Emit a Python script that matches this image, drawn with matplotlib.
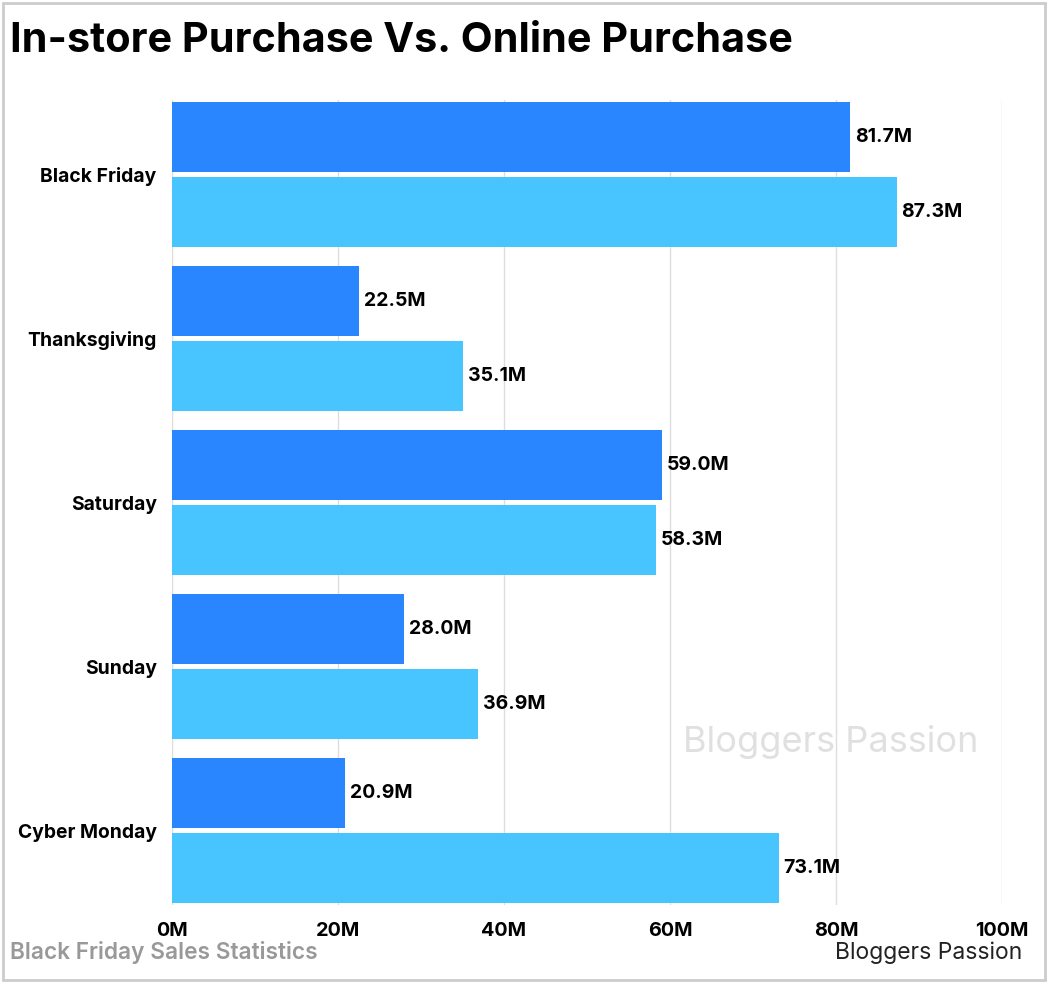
import matplotlib.pyplot as plt
from matplotlib.patches import Rectangle

plt.rcParams['font.family'] = ['Inter', 'DejaVu Sans']

days = ['Black Friday', 'Thanksgiving', 'Saturday', 'Sunday', 'Cyber Monday']
in_store = [81.7, 22.5, 59.0, 28.0, 20.9]
online = [87.3, 35.1, 58.3, 36.9, 73.1]
x_ticks = [0, 20, 40, 60, 80, 100]

dark = '#2986FF'
light = '#48C4FF'

fig = plt.figure(figsize=(10.48, 9.83), dpi=100)
fig.patches.append(Rectangle((0.003, 0.003), 0.994, 0.994, transform=fig.transFigure,
                             fill=False, edgecolor='#cccccc', linewidth=2))
ax = fig.add_axes([0.1641, 0.0793, 0.792, 0.819])

pos = list(range(len(days)))
off = 0.229
h = 0.427
ax.barh([p - off for p in pos], in_store, height=h, color=dark)
ax.barh([p + off for p in pos], online, height=h, color=light)

for p, a, b in zip(pos, in_store, online):
    ax.text(a + 0.6, p - off, f'{a:.1f}M', va='center', ha='left', fontsize=14, fontweight='bold')
    ax.text(b + 0.6, p + off, f'{b:.1f}M', va='center', ha='left', fontsize=14, fontweight='bold')

ax.set_ylim(4.454, -0.454)
ax.set_xlim(0, 100)
ax.set_yticks(pos)
ax.set_yticklabels(days, fontsize=13.9, fontweight='bold')
ax.set_xticks(x_ticks)
ax.set_xticklabels([f'{t}M' for t in x_ticks], fontsize=14.3, fontweight='bold')
ax.tick_params(axis='y', length=0, pad=11)
ax.tick_params(axis='x', length=0, pad=12)
ax.grid(axis='x', color='#dddddd', linewidth=1)
ax.set_axisbelow(True)
for s in ax.spines.values():
    s.set_visible(False)

fig.text(0.01, 0.958, 'In-store Purchase Vs. Online Purchase', fontsize=29.8, fontweight='bold', va='center')
fig.text(0.01, 0.031, 'Black Friday Sales Statistics', fontsize=16.3, fontweight='semibold', color='#999999', va='center')
fig.text(0.797, 0.031, 'Bloggers Passion', fontsize=16.5, color='#222222', va='center')
fig.text(0.652, 0.245, 'Bloggers Passion', fontsize=26, color='#cccccc', alpha=0.6, va='center')

fig.savefig('out.png', dpi=100)
